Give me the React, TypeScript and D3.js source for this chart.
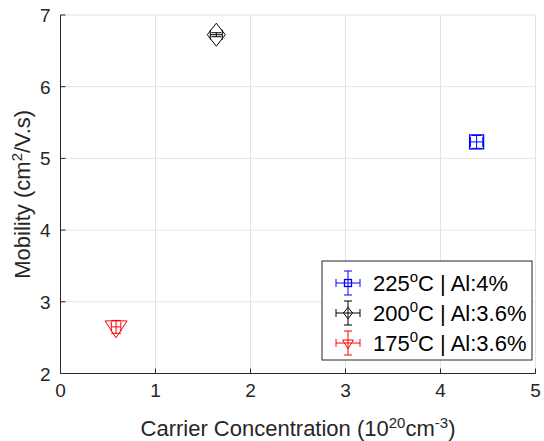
import React from "react";
import * as d3 from "d3";

const seriesNames = ["225", "200", "175"];
const seriesSup = ["o", "0", "0"];
const seriesAl = ["Al:4%", "Al:3.6%", "Al:3.6%"];
const seriesColors = ["#0000ff", "#000000", "#ff0000"];
const seriesMarkers = ["square", "diamond", "triangle"];
const xValues = [4.38, 1.64, 0.585];
const yValues = [5.23, 6.725, 2.65];
const xErr = [0.065, 0.063, 0.05];
const yErr = [0.09, 0.028, 0.09];
const xTicks = [0, 1, 2, 3, 4, 5];
const yTicks = [2, 3, 4, 5, 6, 7];

const W = 544;
const H = 441;
const M = { left: 60.5, right: 8.5, top: 15, bottom: 67.5 };
const FONT = "'Liberation Sans', Arial, Helvetica, sans-serif";
const AX = "#262626";
const GRID = "#e3e3e3";

function Marker({ type, cx, cy, color, s = 1 }: any) {
  if (type === "square") {
    const h = 7 * s;
    return <rect x={cx - h} y={cy - h} width={2 * h} height={2 * h} fill="none" stroke={color} strokeWidth={1.3} />;
  }
  if (type === "diamond") {
    const w = 9 * s, h = 11.5 * s;
    return <path d={`M${cx},${cy - h}L${cx + w},${cy}L${cx},${cy + h}L${cx - w},${cy}Z`} fill="none" stroke={color} strokeWidth={1} />;
  }
  const w = 11 * s;
  return <path d={`M${cx - w},${cy - 6 * s}L${cx + w},${cy - 6 * s}L${cx},${cy + 11 * s}Z`} fill="none" stroke={color} strokeWidth={1} />;
}

function ErrBar({ cx, cy, x0, x1, y0, y1, color, cap }: any) {
  return (
    <g stroke={color} strokeWidth={1} fill="none">
      <line x1={x0} x2={x1} y1={cy} y2={cy} />
      <line x1={x0} x2={x0} y1={cy - cap} y2={cy + cap} />
      <line x1={x1} x2={x1} y1={cy - cap} y2={cy + cap} />
      <line x1={cx} x2={cx} y1={y0} y2={y1} />
      <line x1={cx - cap} x2={cx + cap} y1={y0} y2={y0} />
      <line x1={cx - cap} x2={cx + cap} y1={y1} y2={y1} />
    </g>
  );
}

export default function App() {
  const x = d3.scaleLinear().domain([0, 5]).range([M.left, W - M.right]);
  const y = d3.scaleLinear().domain([2, 7]).range([H - M.bottom, M.top]);
  const x0 = M.left, x1 = W - M.right, y0 = H - M.bottom, y1 = M.top;

  const legX = 322, legY = 261, legW = 210, legH = 99;
  return (
    <div style={{ position: "absolute", left: 0, top: 0 }}>
      <svg width={W} height={H} style={{ display: "block", background: "#fff" }} fontFamily={FONT}>
        <rect width={W} height={H} fill="#fff" />
        {xTicks.map((t) => (
          <line key={"gx" + t} x1={x(t)} x2={x(t)} y1={y0} y2={y1} stroke={GRID} strokeWidth={1} />
        ))}
        {yTicks.map((t) => (
          <line key={"gy" + t} x1={x0} x2={x1} y1={y(t)} y2={y(t)} stroke={GRID} strokeWidth={1} />
        ))}
        <line x1={x0} x2={x1} y1={y0} y2={y0} stroke={AX} strokeWidth={1} />
        <line x1={x0} x2={x0} y1={y0} y2={y1} stroke={AX} strokeWidth={1} />
        {xTicks.map((t) => (
          <g key={"tx" + t}>
            <line x1={x(t)} x2={x(t)} y1={y0} y2={y0 - 5} stroke={AX} />
            <text x={x(t)} y={y0 + 23} textAnchor="middle" fontSize={19} fill={AX}>{t}</text>
          </g>
        ))}
        {yTicks.map((t) => (
          <g key={"ty" + t}>
            <line x1={x0} x2={x0 + 5} y1={y(t)} y2={y(t)} stroke={AX} />
            <text x={x0 - 10} y={y(t) + 7} textAnchor="end" fontSize={19} fill={AX}>{t}</text>
          </g>
        ))}
        <text x={(x0 + x1) / 2} y={436} textAnchor="middle" fontSize={22} fill={AX}>
          Carrier Concentration (10<tspan dy={-8} fontSize={15}>20</tspan><tspan dy={8}>cm</tspan><tspan dy={-8} fontSize={15}>-3</tspan><tspan dy={8}>)</tspan>
        </text>
        <text transform={`translate(30,${(y0 + y1) / 2}) rotate(-90)`} textAnchor="middle" fontSize={22} fill={AX}>
          Mobility (cm<tspan dy={-8} fontSize={15}>2</tspan><tspan dy={8}>/V.s)</tspan>
        </text>
        {xValues.map((v, i) => {
          const cx = x(v), cy = y(yValues[i]);
          return (
            <g key={"p" + i}>
              <ErrBar cx={cx} cy={cy} x0={x(v - xErr[i])} x1={x(v + xErr[i])} y0={y(yValues[i] + yErr[i])} y1={y(yValues[i] - yErr[i])} color={seriesColors[i]} cap={5} />
              <Marker type={seriesMarkers[i]} cx={cx} cy={cy} color={seriesColors[i]} />
            </g>
          );
        })}
        <rect x={legX} y={legY} width={legW} height={legH} fill="#fff" stroke={AX} strokeWidth={1} />
        {seriesNames.map((n, i) => {
          const cy = legY + 22 + i * 30;
          const cx = 348;
          return (
            <g key={"l" + i}>
              <ErrBar cx={cx} cy={cy} x0={cx - 12} x1={cx + 12} y0={cy - 12} y1={cy + 12} color={seriesColors[i]} cap={4} />
              <Marker type={seriesMarkers[i]} cx={cx} cy={cy} color={seriesColors[i]} s={0.5} />
              <text x={373} y={cy + 8} fontSize={22} fill="#000">
                {n}<tspan dy={-9} fontSize={15}>{seriesSup[i]}</tspan><tspan dy={9}>C | {seriesAl[i]}</tspan>
              </text>
            </g>
          );
        })}
      </svg>
    </div>
  );
}
